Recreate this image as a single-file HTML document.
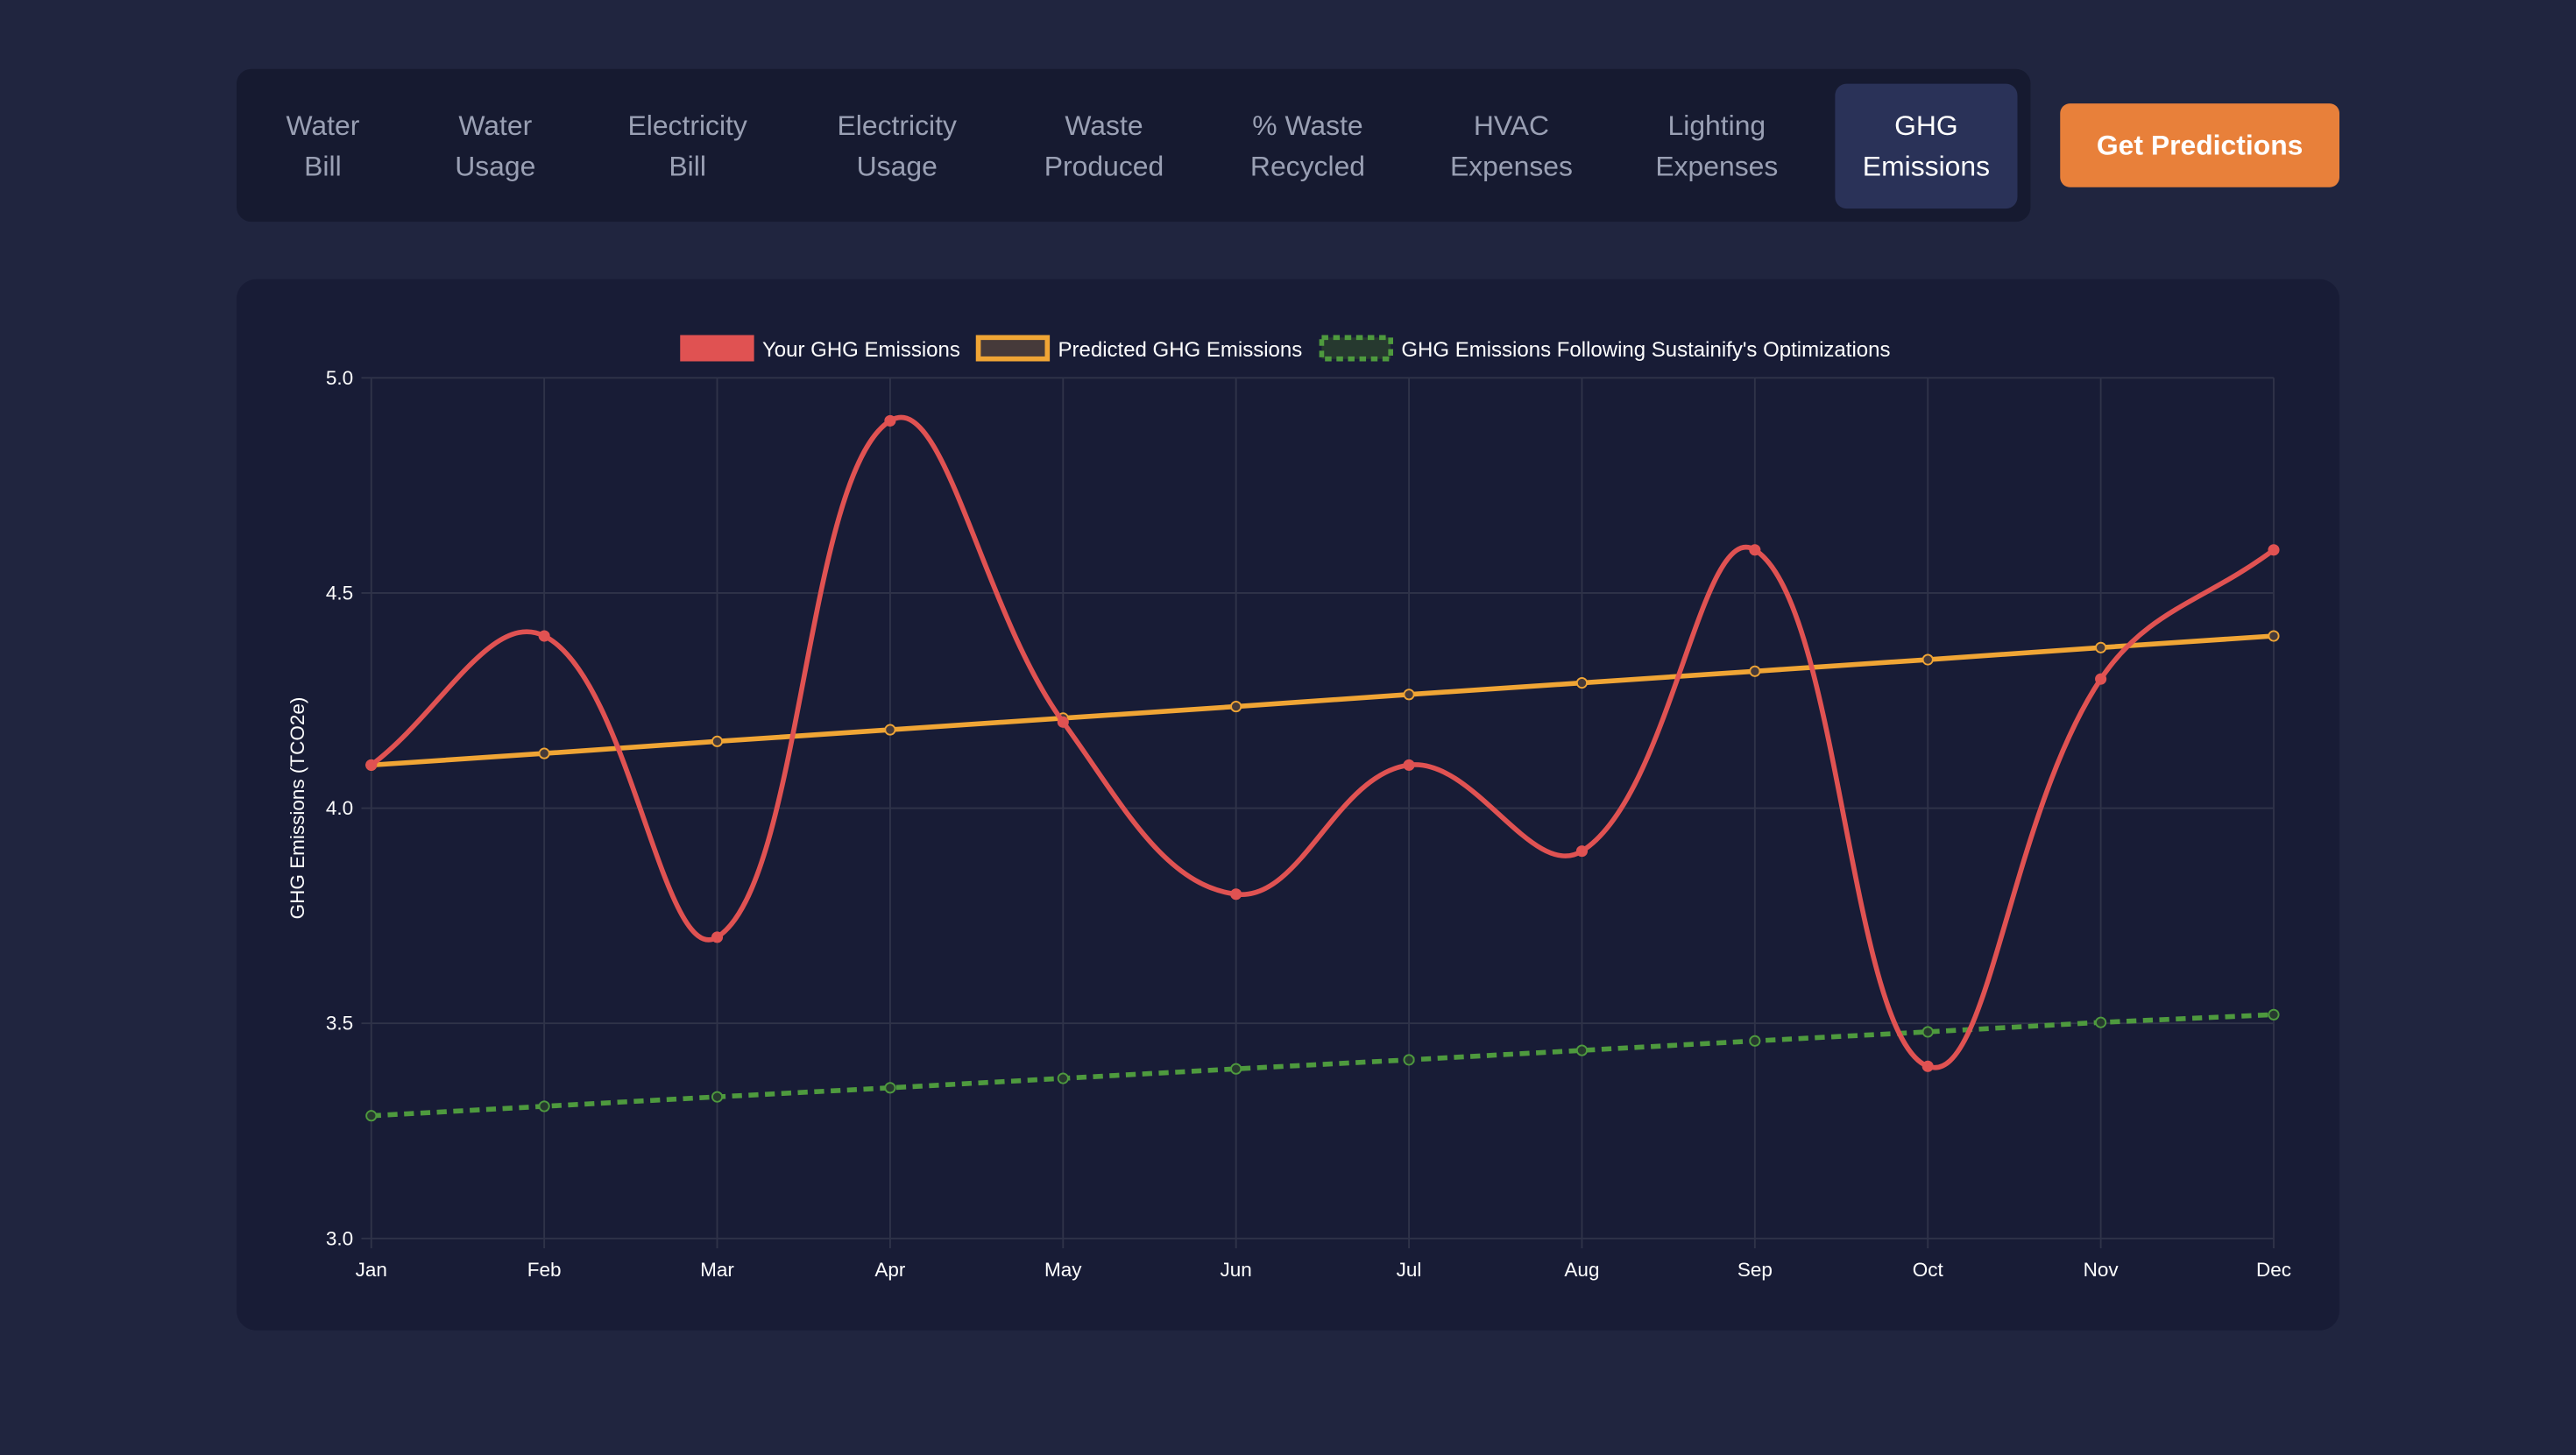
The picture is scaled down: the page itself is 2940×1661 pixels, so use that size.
<!DOCTYPE html>
<html><head><meta charset="utf-8">
<style>
html,body{margin:0;padding:0;background:#20253f;width:2940px;height:1661px;overflow:hidden;font-family:"Liberation Sans",sans-serif;}
#wrap{position:absolute;left:0;top:0;width:1568px;height:886px;transform:scale(1.875);transform-origin:0 0;}
.tabs{position:absolute;left:144px;top:42px;width:1092px;height:93px;background:#161a30;border-radius:9px;}
.tab{position:absolute;top:9px;height:76px;display:flex;align-items:center;justify-content:center;text-align:center;color:#9aa0b4;font-size:17px;line-height:25px;border-radius:7px;}
.tab.active{background:#2a3258;color:#fff;}
.btn{position:absolute;left:1254px;top:63px;width:170px;height:51px;background:#e8803a;border-radius:6px;color:#fff;font-size:17px;font-weight:bold;display:flex;align-items:center;justify-content:center;}
.card{position:absolute;left:144px;top:170px;width:1280px;height:640px;background:#181c36;border-radius:12px;}
svg{position:absolute;left:0;top:0;}
</style></head><body>
<div id="wrap">
<div class="tabs">
 <div class="tab" style="left:0;width:105px">Water<br>Bill</div>
 <div class="tab" style="left:105px;width:105px">Water<br>Usage</div>
 <div class="tab" style="left:212px;width:125px">Electricity<br>Bill</div>
 <div class="tab" style="left:340px;width:124px">Electricity<br>Usage</div>
 <div class="tab" style="left:468px;width:120px">Waste<br>Produced</div>
 <div class="tab" style="left:592px;width:120px">% Waste<br>Recycled</div>
 <div class="tab" style="left:716px;width:120px">HVAC<br>Expenses</div>
 <div class="tab" style="left:841px;width:120px">Lighting<br>Expenses</div>
 <div class="tab active" style="left:973px;width:111px">GHG<br>Emissions</div>
</div>
<div class="btn">Get Predictions</div>
<div class="card"></div>
<svg id="chart" width="1568" height="886" font-family="Liberation Sans, sans-serif"></svg>
</div>
<script>
const months=["Jan","Feb","Mar","Apr","May","Jun","Jul","Aug","Sep","Oct","Nov","Dec"];
const yTicks=[3.0,3.5,4.0,4.5,5.0];
const actual=[4.1,4.4,3.7,4.9,4.2,3.8,4.1,3.9,4.6,3.4,4.3,4.6];
const predicted=[4.1,4.127,4.155,4.182,4.209,4.236,4.264,4.291,4.318,4.345,4.373,4.4];
const optimized=[3.285,3.307,3.329,3.35,3.372,3.394,3.415,3.437,3.459,3.48,3.502,3.52];

const NS="http://www.w3.org/2000/svg";
const svg=document.getElementById('chart');
const L=226,R=1384,T=230,B=754,yMin=3,yMax=5;
const xs=i=>L+i*(R-L)/(months.length-1);
const ys=v=>B-(v-yMin)/(yMax-yMin)*(B-T);
function mk(tag,attrs,parent){const e=document.createElementNS(NS,tag);for(const k in attrs)e.setAttribute(k,attrs[k]);(parent||svg).appendChild(e);return e;}

const grid=mk('g',{});


yTicks.forEach(v=>{
 const l=mk('line',{x1:L-6,x2:R,y1:ys(v),y2:ys(v),stroke:'#2f3349','stroke-width':1},grid);
 
 
 const t=mk('text',{x:L-11,y:ys(v)+4,'text-anchor':'end','font-size':12,fill:'#fff'});
 t.textContent=v.toFixed(1);
 
 
});
months.forEach((m,i)=>{
 const l=mk('line',{x1:xs(i),x2:xs(i),y1:T,y2:B+6,stroke:'#2f3349','stroke-width':1},grid);
 
 
 const t=mk('text',{x:xs(i),y:B+23,'text-anchor':'middle','font-size':12,fill:'#fff'});
 t.textContent=m;
 
 
});
const yt=mk('text',{x:0,y:0,transform:`translate(185,${(T+B)/2}) rotate(-90)`,'text-anchor':'middle','font-size':12,fill:'#fff'});
yt.textContent='GHG Emissions (TCO2e)';



function splinePath(pts,t){
 let d=`M${pts[0].x},${pts[0].y}`;
 const cps=pts.map((p,i)=>{
  const a=pts[Math.max(0,i-1)],c=pts[Math.min(pts.length-1,i+1)];
  const d01=Math.hypot(p.x-a.x,p.y-a.y),d12=Math.hypot(c.x-p.x,c.y-p.y);
  let s01=d01/(d01+d12),s12=d12/(d01+d12);
  if(isNaN(s01))s01=0;if(isNaN(s12))s12=0;
  const fa=t*s01,fb=t*s12;
  const cl=v=>Math.max(T,Math.min(B,v));
  return {px:p.x-fa*(c.x-a.x),py:cl(p.y-fa*(c.y-a.y)),nx:p.x+fb*(c.x-a.x),ny:cl(p.y+fb*(c.y-a.y))};
 });
 for(let i=1;i<pts.length;i++){
  d+=` C${cps[i-1].nx},${cps[i-1].ny} ${cps[i].px},${cps[i].py} ${pts[i].x},${pts[i].y}`;
 }
 return d;
}
function series(vals,name,color,fill,tension,dash,ptFill){
 const g=mk('g',{});
 
 
 const pts=vals.map((v,i)=>({x:xs(i),y:ys(v)}));
 const p=mk('path',{d:splinePath(pts,tension),fill:'none',stroke:color,'stroke-width':3,'stroke-dasharray':dash||'none'},g);
 
 
 pts.forEach(q=>{
  const c=mk('circle',{cx:q.x,cy:q.y,r:3,fill:ptFill,stroke:color,'stroke-width':1},g);
  
  
 });
}
series(optimized,'optimized-series','#4e9a3e',null,0,'6 4','#26392f');
series(predicted,'predicted-series','#f0a535',null,0,null,'#463a3a');
series(actual,'actual-series','#e05252',null,0.4,null,'#e05252');

const leg=mk('g',{});


const items=[
 {x:414,label:'Your GHG Emissions',stroke:'#e05252',fill:'#e05252',dash:'none'},
 {x:594,label:'Predicted GHG Emissions',stroke:'#f0a535',fill:'#463a3a',dash:'none'},
 {x:803,label:"GHG Emissions Following Sustainify's Optimizations",stroke:'#4e9a3e',fill:'#26392f',dash:'4 3'}
];
items.forEach(it=>{
 const g=mk('g',{},leg);
 
 
 mk('rect',{x:it.x+1.5,y:205.5,width:42,height:13,fill:it.fill,stroke:it.stroke,'stroke-width':3,'stroke-dasharray':it.dash},g);
 const t=mk('text',{x:it.x+50,y:217,'font-size':12.8,fill:'#fff'},g);
 t.textContent=it.label;
});
</script>
</body></html>
